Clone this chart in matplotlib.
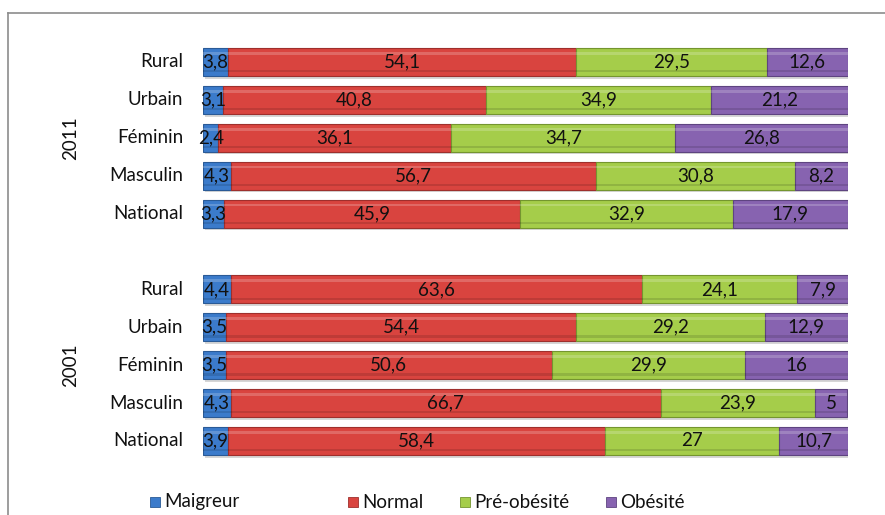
import matplotlib
matplotlib.use("Agg")
import matplotlib.pyplot as plt
from matplotlib.patches import Rectangle
from matplotlib.lines import Line2D
import numpy as np

plt.rcParams['font.family'] = ['Lato', 'DejaVu Sans']

years = ["2011", "2001"]
categories = ["Rural", "Urbain", "Féminin", "Masculin", "National"]
series = ["Maigreur", "Normal", "Pré-obésité", "Obésité"]

maigreur_2011 = [3.8, 3.1, 2.4, 4.3, 3.3]
normal_2011 = [54.1, 40.8, 36.1, 56.7, 45.9]
preob_2011 = [29.5, 34.9, 34.7, 30.8, 32.9]
obes_2011 = [12.6, 21.2, 26.8, 8.2, 17.9]

maigreur_2001 = [4.4, 3.5, 3.5, 4.3, 3.9]
normal_2001 = [63.6, 54.4, 50.6, 66.7, 58.4]
preob_2001 = [24.1, 29.2, 29.9, 23.9, 27]
obes_2001 = [7.9, 12.9, 16, 5, 10.7]

colors = ["#3b7bcb", "#d9443f", "#a5cd4a", "#8763b0"]
edges = ["#2a5a96", "#9e2f2c", "#74952f", "#5e4480"]

W, H = 885, 515
fig = plt.figure(figsize=(W / 100, H / 100), dpi=100)
fig.patch.set_facecolor("white")

def fx(px):
    return px / W

def fy(py):
    return 1 - py / H

FS = 13.5
ax_top, ax_bot = 40, 465
ax = fig.add_axes([fx(203), fy(ax_bot), fx(848) - fx(203), fy(ax_top) - fy(ax_bot)])
row0, step = 62, 37.9
ax.set_ylim((ax_bot - row0) / step, (ax_top - row0) / step)
ax.set_xlim(0, 100)
ax.axis("off")

data = {
    "2011": [maigreur_2011, normal_2011, preob_2011, obes_2011],
    "2001": [maigreur_2001, normal_2001, preob_2001, obes_2001],
}

def fmt(v):
    s = ("%.1f" % v).rstrip("0").rstrip(".")
    return s.replace(".", ",")

bh = 0.74
for gi, yr in enumerate(years):
    ys = np.arange(len(categories)) + gi * 6
    vals = data[yr]
    total = np.sum(vals, axis=0)
    ax.barh(ys + 0.07, total, left=0.3, height=bh, color="#d6d6d6", zorder=1, linewidth=0)
    left = np.zeros(len(categories))
    for si in range(len(series)):
        v = np.array(vals[si])
        ax.barh(ys, v, left=left, height=bh, color=colors[si], edgecolor=edges[si],
                linewidth=0.8, zorder=2, label=series[si] if gi == 0 else None)
        ax.barh(ys - bh * 0.31, v, left=left, height=bh * 0.1, color="white", alpha=0.2,
                linewidth=0, zorder=3)
        ax.barh(ys + bh * 0.33, v, left=left, height=bh * 0.08, color="black", alpha=0.12,
                linewidth=0, zorder=3)
        for y, l, w in zip(ys, left, v):
            ax.text(l + w / 2, y, fmt(w), ha="center", va="center", fontsize=FS,
                    color="#111111", zorder=4)
        left = left + v
    for y, c in zip(ys, categories):
        ax.text(-3.1, y, c, ha="right", va="center", fontsize=FS, color="#111111")
    ax.text(-20.5, ys.mean(), yr, ha="center", va="center", rotation=90, fontsize=FS,
            color="#111111")

# frame
fig.add_artist(Line2D([fx(8), 1.0], [fy(13), fy(13)], color="#8c8c8c", lw=1.2))
fig.add_artist(Line2D([fx(8), fx(8)], [fy(13), 0.0], color="#8c8c8c", lw=1.2))

# legend
leg_y = 502
leg_items = [(150, "Maigreur"), (348, "Normal"), (460, "Pré-obésité"), (606, "Obésité")]
for (px, name), c, e in zip(leg_items, colors, edges):
    fig.add_artist(Rectangle((fx(px), fy(leg_y + 5)), fx(10), 10 / H, facecolor=c,
                             edgecolor=e, lw=0.6))
    fig.text(fx(px + 14), fy(leg_y), name, ha="left", va="center", fontsize=FS,
             color="#111111")

fig.savefig("out.png", dpi=100, facecolor="white")
